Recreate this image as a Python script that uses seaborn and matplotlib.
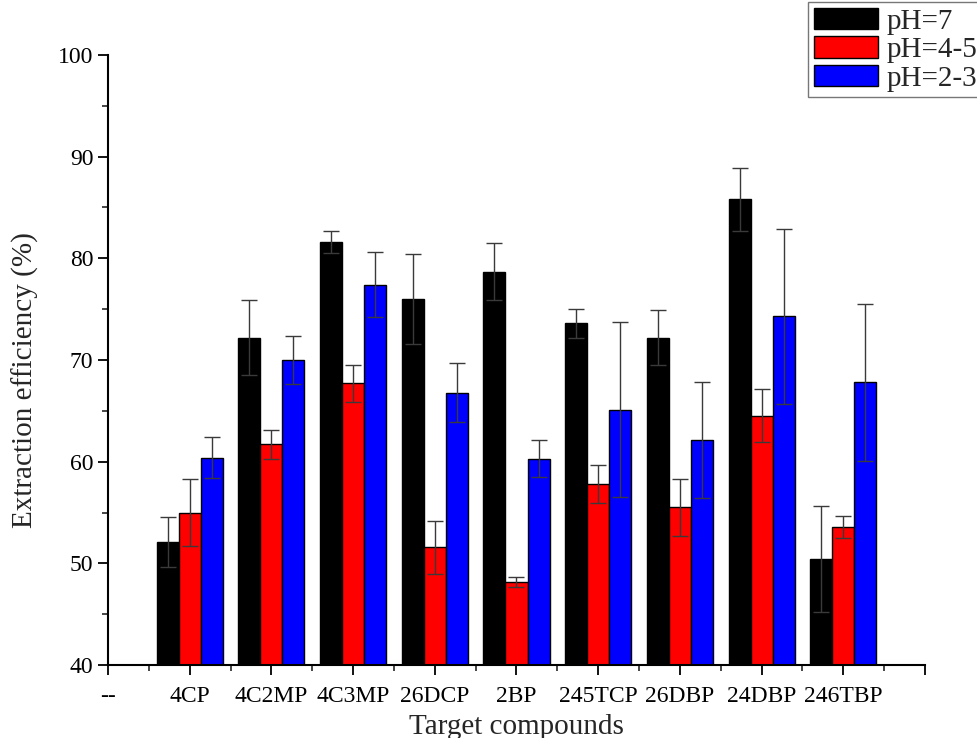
import numpy as np
import pandas as pd
import matplotlib
matplotlib.use("Agg")
import matplotlib.pyplot as plt
import seaborn as sns
from matplotlib.patches import Patch
from matplotlib.ticker import MultipleLocator

compounds = ["4CP", "4C2MP", "4C3MP", "26DCP", "2BP", "245TCP", "26DBP", "24DBP", "246TBP"]
levels = ["pH=7", "pH=4-5", "pH=2-3"]
colors = ["#000000", "#ff0000", "#0000ff"]

ph7 = [52.1, 72.2, 81.6, 76.0, 78.7, 73.6, 72.2, 85.8, 50.4]
ph45 = [55.0, 61.7, 67.7, 51.6, 48.2, 57.8, 55.5, 64.5, 53.6]
ph23 = [60.4, 70.0, 77.4, 66.8, 60.3, 65.1, 62.1, 74.3, 67.8]

err7 = [2.5, 3.7, 1.1, 4.4, 2.8, 1.4, 2.7, 3.1, 5.2]
err45 = [3.3, 1.4, 1.8, 2.6, 0.5, 1.9, 2.8, 2.6, 1.1]
err23 = [2.0, 2.4, 3.2, 2.9, 1.8, 8.6, 5.7, 8.6, 7.7]

df = pd.DataFrame({
    "compound": compounds * 3,
    "pH": np.repeat(levels, len(compounds)),
    "eff": ph7 + ph45 + ph23,
    "err": err7 + err45 + err23,
})

sns.set_style("ticks")
plt.rcParams["font.family"] = ["Liberation Serif", "DejaVu Serif"]

fig = plt.figure(figsize=(9.77, 7.38), dpi=100)
ax = fig.add_axes([0.1105, 0.0989, 0.8363, 0.8266])

sns.barplot(data=df, x="compound", y="eff", hue="pH", order=compounds,
            hue_order=levels, palette=colors, width=0.81, errorbar=None,
            edgecolor="black", linewidth=1.0, saturation=1, ax=ax, legend=False)

# error bars on each bar
for cont, lvl in zip(ax.containers, levels):
    sub = df[df["pH"] == lvl].set_index("compound").loc[compounds]
    xs = [b.get_x() + b.get_width() / 2 for b in cont]
    ax.errorbar(xs, sub["eff"].values, yerr=sub["err"].values, fmt="none",
                ecolor="#3a3a3a", elinewidth=1.0, capsize=6, capthick=1.0, zorder=3)

ax.set_ylim(40, 100)
ax.set_xlim(-1, 9)
ax.set_xticks(np.arange(-1, 10))
ax.set_xticklabels(["--"] + compounds + [""])
ax.xaxis.set_minor_locator(MultipleLocator(0.5))
ax.yaxis.set_major_locator(MultipleLocator(10))
ax.yaxis.set_minor_locator(MultipleLocator(5))
ax.tick_params(axis="both", which="major", direction="out", length=7, width=1.3,
               labelsize=17, colors="black")
ax.tick_params(axis="x", which="major", pad=8)
ax.tick_params(axis="both", which="minor", direction="out", length=4, width=1.2)
for s in ["left", "bottom"]:
    ax.spines[s].set_linewidth(1.5)
    ax.spines[s].set_color("black")
sns.despine(ax=ax)

ax.set_xlabel("Target compounds", fontsize=21, labelpad=5)
ax.set_ylabel("Extraction efficiency (%)", fontsize=21)
ax.yaxis.set_label_coords(-0.085, 0.467)

handles = [Patch(facecolor=c, edgecolor="black", linewidth=1.0) for c in colors]
leg = fig.legend(handles, levels, loc="upper left", bbox_to_anchor=(0.827, 0.997),
                 fontsize=21, handlelength=2.2, handleheight=0.75, borderpad=0.2,
                 labelspacing=0.05, handletextpad=0.3, frameon=True, fancybox=False,
                 borderaxespad=0)
leg.get_frame().set_edgecolor("#555555")
leg.get_frame().set_linewidth(1.0)

fig.savefig("out.png", dpi=100)
